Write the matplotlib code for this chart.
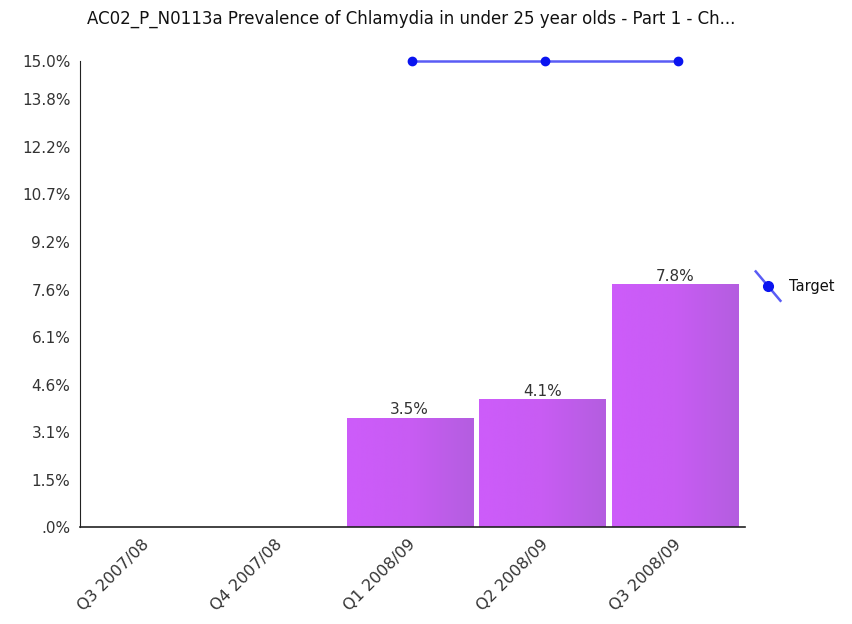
import matplotlib.pyplot as plt
import numpy as np
from matplotlib.colors import LinearSegmentedColormap
from matplotlib.lines import Line2D
from matplotlib.transforms import ScaledTranslation

plt.rcParams['font.family'] = ['DejaVu Sans']

quarters = ['Q3 2007/08', 'Q4 2007/08', 'Q1 2008/09', 'Q2 2008/09', 'Q3 2008/09']
prevalence = [None, None, 3.5, 4.1, 7.8]
target = [None, None, 15.0, 15.0, 15.0]

tick_vals = [0, 1.53, 3.06, 4.59, 6.12, 7.65, 9.18, 10.71, 12.24, 13.77, 15.0]
tick_text = ['.0%', '1.5%', '3.1%', '4.6%', '6.1%', '7.6%', '9.2%', '10.7%',
             '12.2%', '13.8%', '15.0%']

fig = plt.figure(figsize=(8.52, 6.24), dpi=100)
ax = fig.add_axes([0.094, 0.155, 0.78, 0.747])

# horizontal gradient for bars, bright magenta to slightly darker violet
grad = LinearSegmentedColormap.from_list('bar', ['#cd5cfa', '#c85cf3', '#b45ee0'])
gimg = np.linspace(0, 1, 64).reshape(1, -1)
width = 0.95
x = np.arange(len(quarters))
for xi, v in zip(x, prevalence):
    if v is None:
        continue
    ax.imshow(gimg, cmap=grad, aspect='auto', interpolation='bicubic',
              extent=(xi - 0.02 - width / 2, xi - 0.02 + width / 2, 0, v), zorder=2)
    ax.text(xi - 0.02, v + 0.04, f'{v:.1f}%', ha='center', va='bottom',
            fontsize=11, color='#333333')

tx = [xi for xi, t in zip(x, target) if t is not None]
ty = [t for t in target if t is not None]
ax.plot(tx, ty, color='#5a5cf5', lw=1.8, marker='o', ms=6,
        markerfacecolor='#0a14f0', markeredgecolor='#0a14f0', zorder=3, clip_on=False)

ax.set_xlim(-0.5, 4.5)
ax.set_ylim(0, 15.0)
ax.set_yticks(tick_vals)
ax.set_yticklabels(tick_text, fontsize=11)
ax.set_xticks(x)
ax.set_xticklabels(quarters, rotation=45, ha='right', rotation_mode='anchor', fontsize=11.5)
ax.tick_params(length=0, colors='#333333', pad=7)
shift = ScaledTranslation(-5 / 100, 0, fig.dpi_scale_trans)
for lbl in ax.get_xticklabels():
    lbl.set_transform(lbl.get_transform() + shift)
for side in ['top', 'right']:
    ax.spines[side].set_visible(False)
ax.spines['left'].set_color('#222222')
ax.spines['bottom'].set_color('#222222')
ax.spines['bottom'].set_linewidth(1.2)

# legend entry drawn at right
fig.add_artist(Line2D([0.887, 0.916], [0.565, 0.518], color='#5a5cf5', lw=1.8))
fig.add_artist(Line2D([0.9015], [0.5415], marker='o', ms=7, color='#0a14f0'))
fig.text(0.926, 0.541, 'Target', fontsize=10.5, va='center', color='#111111')

fig.text(0.483, 0.97, 'AC02_P_N0113a Prevalence of Chlamydia in under 25 year olds - Part 1 - Ch...',
         ha='center', va='center', fontsize=12, color='#111111')

fig.savefig('out.png', dpi=100)
